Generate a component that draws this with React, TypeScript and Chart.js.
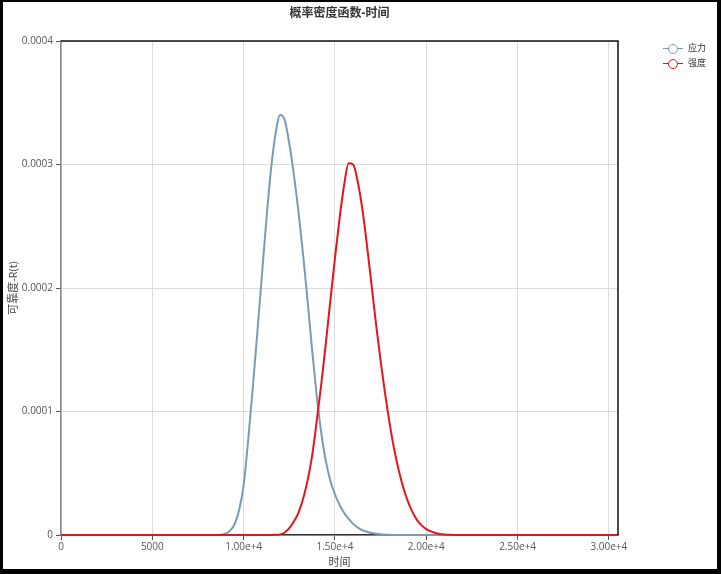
import React, { useEffect, useRef } from "react";
import { Chart, registerables } from "chart.js";

Chart.register(...registerables);

const titleText = "概率密度函数-时间";
const xTitle = "时间";
const yTitle = "可靠度-R(t)";
const seriesNames = ["应力", "强度"];
const seriesColors = ["#7b9bb5", "#e8141b"];

const xTickValues = [0, 5000, 10000, 15000, 20000, 25000, 30000];
const yTickValues = [0, 0.0001, 0.0002, 0.0003, 0.0004];

const times = [
  0, 1000, 2000, 3000, 4000, 5000, 6000, 7000, 8000,
  8500, 8750, 9000, 9250, 9500, 9750, 10000, 10250, 10500, 10750,
  11000, 11250, 11500, 11750, 12000, 12250, 12500, 12750, 13000, 13250,
  13500, 13750, 14000, 14250, 14500, 14750, 15000, 15250, 15500, 15750,
  16000, 16250, 16500, 16750, 17000, 17250, 17500, 17750, 18000, 18250,
  18500, 18750, 19000, 19250, 19500, 19750, 20000, 20250, 20500, 20750,
  21000, 21250, 21500,
  22000, 23000, 24000, 25000, 26000, 27000, 28000, 29000, 30000, 30500,
];

const stressValues = [
  0, 0, 0, 0, 0, 0, 0, 0, 0,
  0, 2e-7, 1e-6, 3.5e-6, 8.5e-6, 2.0e-5, 4.0e-5, 7.7e-5, 1.19e-4, 1.64e-4,
  2.1e-4, 2.56e-4, 2.96e-4, 3.25e-4, 3.4e-4, 3.36e-4, 3.17e-4, 2.92e-4, 2.62e-4, 2.28e-4,
  1.9e-4, 1.5e-4, 1.13e-4, 8.3e-5, 6.0e-5, 4.4e-5, 3.3e-5, 2.45e-5, 1.8e-5, 1.3e-5,
  9e-6, 6e-6, 4e-6, 2.6e-6, 1.6e-6, 1e-6, 6e-7, 3e-7, 1.5e-7, 0,
  0, 0, 0, 0, 0, 0, 0, 0, 0, 0,
  0, 0, 0,
  0, 0, 0, 0, 0, 0, 0, 0, 0, 0,
];

const strengthValues = [
  0, 0, 0, 0, 0, 0, 0, 0, 0,
  0, 0, 0, 0, 0, 0, 0, 0, 0, 0,
  0, 0, 0, 2e-7, 5e-7, 2e-6, 5.5e-6, 1.1e-5, 1.8e-5, 2.9e-5,
  4.4e-5, 6.4e-5, 9.2e-5, 1.22e-4, 1.55e-4, 1.9e-4, 2.24e-4, 2.56e-4, 2.83e-4, 3.01e-4,
  3.0e-4, 2.86e-4, 2.64e-4, 2.35e-4, 2.03e-4, 1.71e-4, 1.41e-4, 1.14e-4, 9.0e-5, 6.9e-5,
  5.2e-5, 3.8e-5, 2.7e-5, 1.85e-5, 1.2e-5, 7.8e-6, 4.8e-6, 2.9e-6, 1.6e-6, 8e-7,
  4e-7, 1.5e-7, 0,
  0, 0, 0, 0, 0, 0, 0, 0, 0, 0,
];

const xMin = 0;
const xMax = 30500;
const yMin = 0;
const yMax = 0.0004;

const FONT = "'Open Sans', 'Noto Sans CJK SC', sans-serif";

const frameBorder = {
  id: "frameBorder",
  afterDraw(chart: any) {
    const { ctx, chartArea } = chart;
    ctx.save();
    ctx.strokeStyle = "#111";
    ctx.lineWidth = 1.5;
    ctx.beginPath();
    ctx.moveTo(chartArea.left, chartArea.top);
    ctx.lineTo(chartArea.right, chartArea.top);
    ctx.lineTo(chartArea.right, chartArea.bottom);
    ctx.stroke();
    ctx.restore();
  },
};

function LegendIcon({ color }: { color: string }) {
  return (
    <span style={{ position: "relative", display: "inline-block", width: 20, height: 12 }}>
      <span style={{ position: "absolute", left: 0, top: 5.5, width: 20, height: 1, background: color }} />
      <span
        style={{
          position: "absolute",
          left: 5,
          top: 1.5,
          width: 10,
          height: 10,
          boxSizing: "border-box",
          border: `1px solid ${color}`,
          borderRadius: "50%",
          background: "#fff",
        }}
      />
    </span>
  );
}

export default function App() {
  const ref = useRef<HTMLCanvasElement | null>(null);

  useEffect(() => {
    if (!ref.current) return;
    Chart.defaults.font.family = FONT;
    const datasets = [stressValues, strengthValues].map((vals, i) => ({
      label: seriesNames[i],
      data: times.map((t, j) => ({ x: t, y: vals[j] })),
      borderColor: seriesColors[i],
      backgroundColor: seriesColors[i],
      borderWidth: 2,
      pointRadius: 0,
      fill: false,
      clip: 3,
      order: i === 0 ? 1 : 0,
      cubicInterpolationMode: "monotone" as const,
    }));
    const chart = new Chart(ref.current, {
      type: "line",
      data: { datasets },
      plugins: [frameBorder],
      options: {
        animation: false,
        responsive: false,
        devicePixelRatio: 1,
        layout: { padding: { top: 39, right: 99, bottom: 0, left: 0 } },
        plugins: {
          legend: { display: false },
          title: { display: false },
          tooltip: { enabled: false },
        },
        scales: {
          x: {
            type: "linear",
            min: xMin,
            max: xMax,
            afterBuildTicks: (s: any) => {
              s.ticks = xTickValues.map((v) => ({ value: v }));
            },
            afterFit: (s: any) => {
              s.height = 34;
            },
            ticks: {
              maxRotation: 0,
              autoSkip: false,
              padding: 1,
              color: "#555",
              font: { size: 10, family: FONT },
              callback: (v: any) => {
                const n = Number(v);
                return n < 10000 ? String(n) : n.toExponential(2);
              },
            },
            grid: {
              color: "#dcdcdc",
              tickColor: "#555",
              tickLength: 5,
            },
            border: { color: "#333", width: 1.5 },
            title: {
              display: true,
              text: xTitle,
              color: "#444",
              font: { size: 11, family: FONT },
              padding: { top: 0, bottom: 0 },
            },
          },
          y: {
            type: "linear",
            min: yMin,
            max: yMax,
            afterBuildTicks: (s: any) => {
              s.ticks = yTickValues.map((v) => ({ value: v }));
            },
            afterFit: (s: any) => {
              s.width = 58;
            },
            ticks: {
              padding: 3,
              color: "#555",
              font: { size: 10, family: FONT },
              callback: (v: any) => {
                const n = Number(v);
                return n === 0 ? "0" : n.toFixed(4);
              },
            },
            grid: {
              color: "#dcdcdc",
              tickColor: "#555",
              tickLength: 5,
            },
            border: { color: "#888", width: 1.5 },
            title: {
              display: true,
              text: yTitle,
              color: "#444",
              font: { size: 11, family: FONT },
              padding: { top: 4, bottom: 0 },
            },
          },
        },
      },
    });
    return () => chart.destroy();
  }, []);

  return (
    <div
      style={{
        position: "fixed",
        left: 0,
        top: 0,
        width: 721,
        height: 574,
        boxSizing: "border-box",
        borderStyle: "solid",
        borderColor: "#000",
        borderWidth: "2px 4px 5px 3px",
        background: "#fff",
        fontFamily: FONT,
      }}
    >
      <canvas
        ref={ref}
        width={714}
        height={567}
        style={{ position: "absolute", left: 0, top: 0, width: 714, height: 567, display: "block" }}
      />
      <div
        style={{
          position: "absolute",
          left: 186.5,
          width: 300,
          top: 4,
          textAlign: "center",
          fontSize: 12,
          lineHeight: "14px",
          fontWeight: "bold",
          color: "#333",
          whiteSpace: "nowrap",
        }}
      >
        {titleText}
      </div>
      {seriesNames.map((name, i) => (
        <div
          key={name}
          style={{
            position: "absolute",
            left: 660,
            top: 40 + i * 15,
            height: 12,
            display: "flex",
            alignItems: "center",
            fontSize: 9,
            color: "#333",
            whiteSpace: "nowrap",
          }}
        >
          <LegendIcon color={seriesColors[i]} />
          <span style={{ marginLeft: 5, lineHeight: "12px" }}>{name}</span>
        </div>
      ))}
    </div>
  );
}
